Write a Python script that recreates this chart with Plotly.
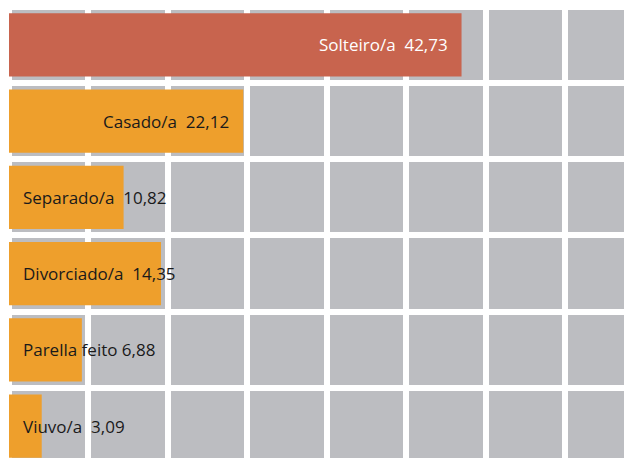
import plotly.graph_objects as go

CATEGORIES = ['Solteiro/a', 'Casado/a', 'Separado/a', 'Divorciado/a', 'Parella feito', 'Viuvo/a']
VALUES = [42.73, 22.12, 10.82, 14.35, 6.88, 3.09]
LABELS = ['Solteiro/a  42,73', 'Casado/a  22,12', 'Separado/a  10,82',
          'Divorciado/a  14,35', 'Parella feito 6,88', 'Viuvo/a  3,09']

COLORS = {
    'top': '#C8644E',
    'bar': '#EE9F2C',
    'tile': '#BCBDC1',
    'gap': 'white',
}

bar_colors = [COLORS['top']] + [COLORS['bar']] * (len(VALUES) - 1)

fig = go.Figure(go.Bar(
    x=VALUES,
    y=CATEGORIES,
    orientation='h',
    width=0.83,
    marker=dict(color=bar_colors, line=dict(width=0)),
    hoverinfo='skip',
))

# labels: inside the end for the two long bars, from the start for the rest
annotations = []
for i, (cat, val, lab) in enumerate(zip(CATEGORIES, VALUES, LABELS)):
    inside_end = val > 20
    annotations.append(dict(
        x=val if inside_end else 0,
        y=cat,
        text=lab,
        showarrow=False,
        xanchor='right' if inside_end else 'left',
        xshift=-12 if inside_end else 12,
        font=dict(color='white' if i == 0 else '#1a1a1a', size=17),
    ))

# the page body adds 8px of margin, so the plot area starts at the figure's edge
fig.update_layout(
    width=632, height=458,
    margin=dict(l=0, r=0, t=2, b=0, pad=0),
    paper_bgcolor='white',
    plot_bgcolor=COLORS['tile'],
    font=dict(family='Open Sans, sans-serif'),
    showlegend=False,
    annotations=annotations,
    xaxis=dict(
        range=[-0.094, 59.58],
        tick0=0, dtick=7.5,
        showgrid=True, gridcolor=COLORS['gap'], gridwidth=6,
        zeroline=True, zerolinecolor=COLORS['gap'], zerolinewidth=6,
        showticklabels=False, ticks='', showline=False,
    ),
    yaxis=dict(
        type='category',
        categoryorder='array', categoryarray=CATEGORIES,
        range=[5.523, -0.457],
        tickson='boundaries',
        showgrid=True, gridcolor=COLORS['gap'], gridwidth=6,
        showticklabels=False, ticks='', showline=False, zeroline=False,
    ),
)

fig.write_html("out.html")
